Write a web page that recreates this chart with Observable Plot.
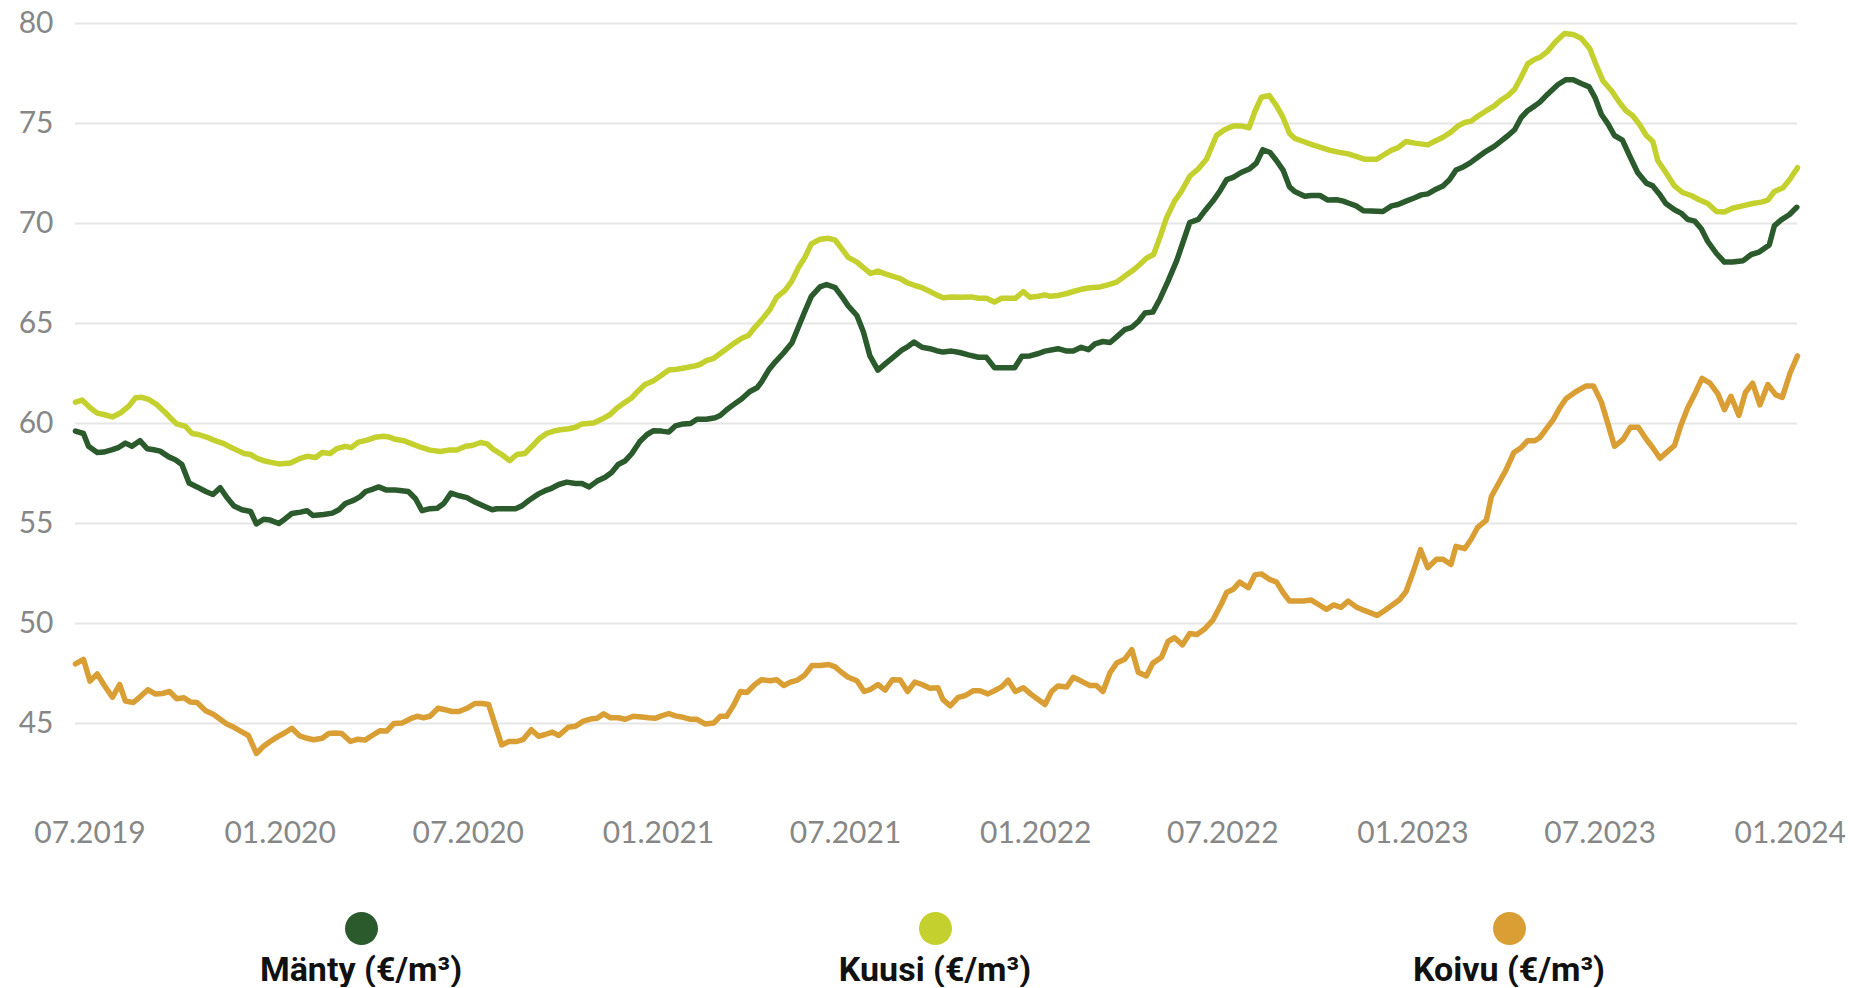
<!DOCTYPE html>
<html>
<head>
<meta charset="utf-8">
<script src="https://cdn.jsdelivr.net/npm/d3@7"></script>
<script src="https://cdn.jsdelivr.net/npm/@observablehq/plot@0.6"></script>
<style>
  html, body { margin: 0; padding: 0; background: #fff; }
  #chart svg { display: block; }
  #legend { display: flex; margin-left: 74px; }
  .item { width: 574px; display: flex; flex-direction: column; align-items: center; }
  .dot { width: 33px; height: 33px; border-radius: 50%; margin-top: 42px; }
  .lab { margin-top: 6px; font-family: "Liberation Sans Narrow", "Roboto", sans-serif; font-weight: 700; font-size: 34px; line-height: 36px; color: #111; }
</style>
</head>
<body>
<div id="chart"></div>
<div id="legend"></div>
<script>
// Series names and colours
const seriesNames = ["Mänty (€/m³)", "Kuusi (€/m³)", "Koivu (€/m³)"];
const seriesColors = ["#2b5a2d", "#c3d02e", "#d99f35"];

// Weekly price points: [weeks since 17.6.2019, €/m³]
const manty = [[0,59.62],[1.1,59.50],[1.8,58.86],[3.0,58.55],[3.9,58.57],[5.1,58.69],[6.0,58.81],[6.9,59.02],[7.8,58.86],[8.9,59.14],[9.9,58.74],[10.8,58.69],[11.7,58.62],[12.9,58.33],[13.8,58.19],[14.7,57.95],[15.7,57.02],[16.8,56.83],[18.0,56.60],[19.0,56.45],[20.0,56.79],[20.9,56.31],[21.9,55.88],[23.0,55.69],[24.2,55.60],[25.0,54.98],[26.0,55.21],[26.9,55.17],[28.1,55.00],[29.0,55.24],[29.9,55.50],[31.1,55.57],[32.0,55.64],[32.8,55.40],[34.3,55.45],[35.5,55.52],[36.4,55.69],[37.3,56.00],[38.5,56.17],[39.4,56.36],[40.1,56.60],[41.0,56.71],[41.9,56.83],[43.0,56.67],[44.2,56.67],[45.1,56.64],[46.0,56.60],[47.0,56.24],[47.9,55.64],[49.0,55.74],[50.0,55.76],[50.9,56.00],[51.9,56.52],[52.9,56.40],[54.1,56.29],[55.2,56.07],[56.4,55.88],[57.6,55.69],[58.2,55.74],[59.4,55.74],[60.8,55.74],[61.7,55.88],[62.8,56.19],[64.0,56.48],[64.9,56.64],[65.8,56.76],[66.8,56.95],[67.9,57.07],[69.1,57.00],[70.0,57.00],[71.0,56.83],[72.1,57.12],[73.2,57.31],[74.1,57.55],[75.0,57.95],[76.0,58.14],[76.9,58.50],[78.0,59.10],[79.0,59.45],[79.9,59.64],[81.0,59.62],[82.0,59.57],[82.9,59.88],[84.0,59.98],[85.0,60.00],[85.9,60.21],[87.2,60.21],[88.4,60.29],[89.1,60.40],[90.0,60.69],[90.9,60.93],[92.1,61.24],[93.2,61.60],[94.2,61.79],[94.8,62.07],[95.8,62.67],[96.7,63.07],[97.8,63.50],[99.0,64.02],[99.9,64.81],[100.8,65.60],[101.7,66.36],[102.9,66.83],[103.8,66.95],[105.0,66.79],[105.9,66.36],[106.8,65.88],[108.0,65.40],[108.9,64.57],[109.8,63.38],[110.9,62.67],[111.9,62.98],[113.0,63.31],[114.2,63.67],[115.1,63.86],[115.9,64.07],[117.0,63.81],[118.1,63.74],[119.0,63.64],[119.9,63.57],[121.1,63.62],[122.2,63.55],[123.4,63.43],[124.8,63.31],[125.9,63.31],[127.0,62.79],[128.5,62.79],[129.8,62.79],[130.8,63.36],[131.9,63.38],[133.1,63.50],[134.0,63.62],[135.8,63.74],[137.0,63.62],[137.9,63.62],[139.0,63.81],[140.0,63.69],[140.9,63.98],[142.0,64.10],[143.0,64.05],[143.9,64.33],[145.0,64.69],[146.0,64.81],[146.9,65.10],[147.8,65.52],[148.9,65.57],[149.9,66.24],[151.0,67.12],[152.2,68.14],[153.1,69.10],[154.0,70.05],[155.2,70.21],[156.1,70.64],[157.2,71.12],[158.2,71.64],[159.1,72.19],[160.0,72.31],[161.1,72.55],[162.3,72.74],[163.2,73.02],[164.1,73.69],[165.1,73.55],[166.0,73.14],[166.9,72.67],[167.8,71.83],[168.5,71.60],[169.9,71.36],[170.8,71.40],[172.0,71.40],[173.1,71.17],[174.3,71.19],[175.2,71.12],[176.1,71.00],[177.0,70.88],[178.0,70.64],[179.1,70.62],[180.7,70.60],[181.9,70.88],[182.8,70.95],[183.9,71.12],[185.1,71.29],[186.0,71.43],[186.9,71.48],[187.8,71.67],[189.0,71.88],[189.9,72.19],[190.8,72.67],[191.8,72.83],[192.7,73.02],[193.8,73.31],[195.0,73.62],[196.1,73.86],[197.1,74.14],[198.0,74.40],[198.9,74.69],[199.8,75.29],[200.7,75.64],[201.7,75.88],[202.4,76.07],[203.5,76.48],[204.9,76.95],[206.0,77.19],[207.0,77.19],[208.1,77.00],[209.2,76.83],[210.0,76.31],[210.9,75.45],[211.8,74.98],[212.7,74.40],[213.8,74.17],[214.8,73.38],[215.9,72.55],[217.1,72.02],[218.0,71.88],[218.9,71.48],[219.8,71.00],[221.0,70.69],[221.9,70.52],[222.8,70.21],[223.8,70.12],[224.7,69.74],[225.6,69.10],[226.8,68.50],[227.9,68.07],[229.0,68.07],[230.5,68.14],[231.6,68.45],[232.7,68.57],[234.1,68.93],[234.8,69.88],[235.7,70.17],[236.9,70.45],[237.9,70.81]];

const kuusi = [[0,61.07],[0.9,61.17],[2.1,60.76],[3.0,60.52],[3.9,60.45],[5.1,60.33],[6.2,60.52],[7.4,60.88],[8.3,61.29],[9.2,61.31],[10.1,61.21],[11.3,60.93],[12.4,60.55],[13.1,60.29],[14.0,59.98],[15.2,59.86],[16.1,59.50],[17.0,59.45],[18.2,59.31],[19.1,59.17],[20.3,59.02],[21.4,58.83],[22.3,58.67],[23.3,58.50],[24.2,58.45],[25.1,58.26],[26.0,58.14],[26.9,58.07],[28.1,57.98],[29.7,58.02],[31.1,58.26],[32.0,58.36],[33.2,58.30],[34.1,58.55],[35.2,58.50],[36.1,58.74],[37.3,58.86],[38.1,58.79],[39.1,59.07],[40.3,59.17],[41.4,59.31],[42.6,59.36],[43.3,59.33],[44.2,59.21],[45.4,59.14],[46.5,58.98],[47.9,58.79],[49.0,58.67],[50.4,58.60],[51.6,58.67],[52.7,58.67],[53.9,58.86],[54.8,58.90],[56.0,59.05],[56.9,58.98],[57.8,58.69],[58.9,58.45],[60.0,58.14],[61.0,58.45],[62.1,58.50],[63.1,58.86],[64.0,59.21],[65.1,59.50],[66.3,59.64],[67.0,59.69],[68.2,59.74],[69.1,59.81],[70.0,59.98],[71.6,60.02],[72.7,60.21],[73.9,60.45],[74.8,60.76],[76.0,61.07],[76.9,61.29],[77.8,61.64],[78.7,61.95],[79.9,62.14],[80.8,62.36],[82.0,62.67],[83.1,62.71],[84.3,62.79],[85.4,62.86],[86.3,62.95],[87.2,63.14],[88.2,63.26],[89.1,63.50],[90.0,63.74],[90.9,63.98],[92.1,64.26],[93.0,64.40],[93.9,64.81],[94.8,65.17],[96.0,65.71],[96.9,66.31],[98.1,66.67],[99.0,67.12],[99.9,67.79],[100.8,68.30],[101.7,68.98],[102.9,69.21],[104.1,69.26],[105.0,69.17],[105.9,68.74],[106.8,68.31],[108.0,68.07],[108.9,67.79],[109.9,67.50],[110.9,67.62],[111.9,67.48],[113.0,67.36],[114.0,67.24],[114.9,67.05],[116.0,66.90],[117.0,66.79],[118.1,66.60],[119.0,66.43],[119.9,66.29],[121.1,66.33],[122.5,66.31],[123.8,66.33],[124.8,66.26],[125.9,66.26],[127.0,66.07],[128.0,66.26],[129.1,66.26],[129.9,66.26],[131.0,66.60],[131.9,66.31],[133.1,66.36],[134.0,66.43],[134.7,66.36],[135.8,66.40],[137.0,66.50],[137.9,66.60],[139.0,66.71],[140.2,66.79],[141.6,66.83],[142.7,66.93],[143.9,67.07],[145.0,67.36],[146.2,67.67],[147.1,67.95],[148.0,68.26],[149.0,68.45],[149.9,69.33],[150.8,70.29],[151.9,71.12],[152.9,71.64],[154.0,72.36],[155.2,72.74],[156.3,73.21],[157.7,74.40],[158.8,74.69],[160.0,74.88],[161.1,74.88],[162.2,74.79],[163.0,75.60],[163.9,76.31],[165.0,76.40],[166.0,75.88],[166.9,75.29],[167.8,74.50],[168.5,74.26],[169.7,74.10],[171.0,73.93],[172.2,73.79],[173.3,73.67],[174.5,73.57],[175.9,73.48],[177.0,73.36],[178.2,73.21],[179.8,73.21],[180.9,73.45],[181.9,73.67],[182.8,73.79],[183.9,74.10],[185.1,74.02],[186.9,73.93],[187.8,74.10],[189.0,74.31],[190.1,74.57],[191.1,74.88],[192.0,75.05],[192.9,75.12],[193.8,75.36],[195.0,75.64],[196.1,75.88],[197.1,76.19],[198.0,76.40],[198.9,76.71],[199.8,77.31],[200.7,77.98],[201.7,78.21],[202.4,78.31],[203.5,78.62],[204.6,79.10],[205.8,79.50],[207.0,79.45],[208.1,79.26],[209.3,78.74],[210.2,77.90],[211.1,77.14],[212.3,76.64],[213.4,76.05],[214.3,75.64],[215.2,75.40],[216.2,74.93],[217.1,74.40],[218.0,74.10],[218.7,73.14],[219.8,72.55],[221.0,71.88],[222.1,71.55],[223.3,71.40],[224.4,71.19],[225.6,71.00],[226.8,70.60],[227.9,70.57],[229.0,70.76],[230.4,70.88],[231.8,71.00],[233.0,71.07],[233.9,71.17],[234.8,71.60],[236.0,71.79],[236.9,72.19],[238.0,72.79]];

const koivu = [[0,47.98],[1.1,48.21],[2.0,47.12],[3.0,47.48],[3.9,46.95],[5.1,46.31],[6.1,46.95],[6.9,46.12],[8.0,46.05],[9.0,46.36],[10.0,46.69],[11.0,46.48],[12.0,46.50],[13.0,46.60],[14.0,46.24],[15.0,46.29],[15.9,46.07],[16.8,46.05],[18.0,45.64],[19.1,45.45],[20.0,45.21],[20.9,44.98],[21.9,44.81],[22.8,44.62],[23.9,44.40],[25.0,43.50],[26.0,43.86],[26.9,44.10],[27.9,44.33],[29.0,44.55],[29.9,44.76],[31.0,44.38],[32.0,44.26],[32.9,44.19],[34.1,44.26],[35.0,44.50],[35.9,44.52],[36.8,44.50],[38.0,44.10],[38.9,44.21],[40.0,44.17],[41.0,44.40],[42.1,44.64],[43.0,44.62],[44.0,45.00],[45.1,45.02],[46.3,45.24],[47.2,45.36],[48.1,45.29],[49.0,45.36],[50.1,45.76],[51.1,45.69],[52.0,45.60],[53.0,45.60],[54.1,45.76],[55.2,46.00],[56.2,46.00],[57.1,45.95],[58.0,44.93],[58.9,43.93],[59.9,44.10],[61.0,44.10],[61.9,44.21],[63.0,44.69],[64.0,44.36],[64.9,44.45],[65.9,44.57],[66.8,44.40],[68.1,44.81],[69.1,44.86],[70.2,45.12],[71.4,45.24],[72.1,45.26],[73.0,45.48],[73.9,45.29],[75.0,45.29],[76.0,45.21],[77.1,45.36],[78.3,45.33],[79.2,45.29],[80.1,45.26],[81.0,45.38],[82.0,45.50],[82.9,45.38],[84.0,45.31],[85.0,45.21],[85.9,45.21],[87.0,44.98],[88.2,45.02],[89.1,45.36],[90.0,45.36],[90.9,45.88],[91.9,46.60],[92.8,46.55],[93.9,46.95],[94.8,47.19],[96.0,47.14],[96.9,47.19],[97.9,46.90],[98.8,47.07],[99.8,47.17],[100.8,47.43],[101.8,47.90],[102.9,47.90],[104.1,47.95],[105.0,47.83],[105.9,47.55],[106.8,47.31],[108.0,47.14],[109.0,46.60],[109.9,46.71],[110.9,46.95],[111.9,46.67],[112.9,47.19],[114.0,47.17],[115.0,46.60],[116.0,47.07],[117.0,46.95],[118.1,46.76],[119.2,46.79],[119.9,46.19],[120.9,45.88],[122.0,46.31],[123.0,46.40],[124.1,46.64],[125.0,46.64],[126.1,46.48],[127.0,46.64],[128.0,46.83],[128.9,47.17],[129.9,46.60],[131.0,46.79],[132.0,46.48],[132.9,46.24],[134.0,45.95],[134.9,46.60],[135.8,46.88],[137.0,46.83],[137.9,47.31],[139.0,47.12],[140.2,46.90],[141.1,46.90],[142.0,46.60],[143.0,47.55],[143.9,48.02],[145.0,48.21],[146.0,48.69],[146.9,47.55],[148.0,47.38],[148.9,48.02],[150.1,48.31],[151.0,49.10],[151.9,49.29],[153.0,48.93],[154.0,49.50],[155.0,49.45],[156.1,49.74],[157.2,50.17],[158.4,51.00],[159.1,51.55],[160.0,51.71],[160.9,52.07],[162.1,51.79],[163.0,52.43],[163.9,52.48],[165.1,52.19],[166.0,52.07],[166.9,51.55],[167.8,51.12],[169.7,51.12],[170.8,51.17],[171.8,50.95],[172.9,50.71],[173.9,50.93],[174.9,50.81],[175.9,51.12],[177.0,50.83],[178.2,50.64],[179.1,50.52],[179.9,50.40],[180.9,50.64],[182.1,50.95],[183.0,51.19],[183.9,51.60],[184.9,52.60],[185.9,53.69],[186.9,52.79],[188.1,53.21],[189.0,53.21],[190.1,52.95],[190.8,53.86],[192.0,53.74],[192.9,54.21],[193.8,54.81],[195.0,55.17],[195.7,56.36],[196.6,56.95],[197.7,57.67],[198.8,58.55],[199.8,58.79],[200.7,59.14],[201.7,59.14],[202.4,59.30],[203.3,59.74],[204.2,60.17],[205.1,60.76],[206.0,61.24],[207.4,61.60],[208.8,61.88],[209.8,61.88],[210.9,61.07],[211.8,59.98],[212.7,58.86],[213.9,59.21],[214.9,59.81],[216.0,59.81],[217.1,59.21],[218.0,58.79],[219.0,58.26],[220.1,58.62],[221.0,58.90],[221.9,59.93],[222.8,60.76],[223.9,61.55],[224.8,62.26],[225.9,62.02],[227.0,61.48],[227.9,60.69],[228.8,61.36],[229.9,60.40],[230.8,61.55],[231.8,62.02],[232.8,60.93],[233.9,61.95],[235.0,61.43],[235.9,61.31],[237.0,62.55],[238.0,63.38]];

// Axis ticks
const yTicks = [45, 50, 55, 60, 65, 70, 75, 80];
const xTickDates = ["2019-07-01", "2020-01-01", "2020-07-01", "2021-01-01", "2021-07-01", "2022-01-01", "2022-07-01", "2023-01-01", "2023-07-01", "2024-01-01"];
const firstWeek = "2019-06-17";
const lastWeek = 238;

const start = new Date(firstWeek + "T00:00:00Z").getTime();
const toDate = w => new Date(start + w * 7 * 864e5);

const seriesData = [manty, kuusi, koivu];
const rows = [];
[2, 1, 0].forEach(i => {
  seriesData[i].forEach(([w, v]) => rows.push({date: toDate(w), value: v, series: seriesNames[i]}));
});

const chart = Plot.plot({
  width: 1856,
  height: 870,
  marginLeft: 75,
  marginRight: 59,
  marginTop: 23,
  marginBottom: 77,
  style: {fontFamily: "Lato, sans-serif", fontSize: "30px", color: "#878787", background: "#fff"},
  x: {type: "utc", domain: [toDate(0), toDate(lastWeek)]},
  y: {domain: [41.5, 80]},
  color: {domain: seriesNames, range: seriesColors},
  marks: [
    Plot.ruleY(yTicks, {stroke: "#e6e6e6", strokeWidth: 2}),
    Plot.axisY({ticks: yTicks, tickSize: 0, tickPadding: 22, label: null}),
    Plot.axisX({ticks: xTickDates.map(d => new Date(d + "T00:00:00Z")), tickFormat: d3.utcFormat("%m.%Y"), tickSize: 0, tickPadding: 28, label: null}),
    Plot.line(rows, {x: "date", y: "value", z: "series", stroke: "series", strokeWidth: 5.5, strokeLinejoin: "round", strokeLinecap: "round"})
  ]
});
document.getElementById("chart").appendChild(chart);

const legend = document.getElementById("legend");
seriesNames.forEach((name, i) => {
  const item = document.createElement("div");
  item.className = "item";
  const dot = document.createElement("div");
  dot.className = "dot";
  dot.style.background = seriesColors[i];
  const lab = document.createElement("div");
  lab.className = "lab";
  lab.textContent = name;
  item.appendChild(dot);
  item.appendChild(lab);
  legend.appendChild(item);
});
</script>
</body>
</html>
